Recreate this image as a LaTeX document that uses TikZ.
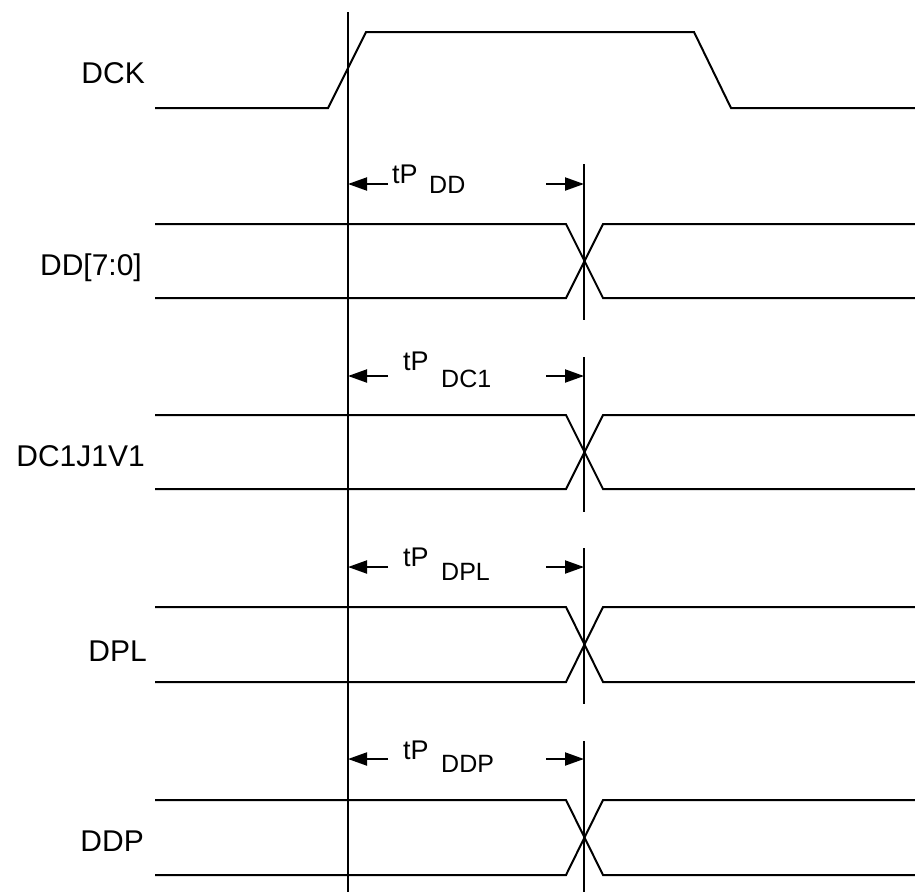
\documentclass[tikz,border=0pt]{standalone}
\usepackage{fontspec}
\setmainfont{Liberation Sans}
\usetikzlibrary{arrows.meta}
\begin{document}
\begin{tikzpicture}[x=1pt,y=-1pt,
  sig/.style={line width=2pt, line join=miter},
  ref/.style={line width=2pt},
  lbl/.style={font=\fontsize{30}{36}\selectfont, inner sep=0pt, anchor=base east},
  tpl/.style={font=\fontsize{27}{32}\selectfont, inner sep=0pt, anchor=base west},
  subl/.style={font=\fontsize{25}{30}\selectfont, inner sep=0pt, anchor=base west},
  dimarrow/.style={line width=2pt, -{Triangle[length=19pt,width=13pt]}}]
\useasboundingbox (0,0) rectangle (915,892);

% clock
\node[lbl] (dck) at (145,83) {DCK};
\draw[sig] (155,108) -- (328,108) -- (366,32) -- (694,32) -- (731,108) -- (915,108);

% reference line
\coordinate (reftop) at (348,12);
\coordinate (refbot) at (348,892);
\draw[ref] (reftop) -- (refbot);

% data rows: top / bottom / label baseline / label / name / label x
\foreach \t/\b/\lb/\txt/\nm/\lx in {224/298/275/{DD[7:0]}/dd/142, 415/489/466/DC1J1V1/dc/145, 607/682/661/DPL/dpl/147, 800/875/851/DDP/ddp/144}{
  \node[lbl] (\nm) at (\lx,\lb) {\txt};
  \draw[sig] (155,\t) -- (566,\t) -- (603,\b) -- (915,\b);
  \draw[sig] (155,\b) -- (566,\b) -- (603,\t) -- (915,\t);
}

% second reference segments
\foreach \s/\e/\nm in {164/320/a, 357/512/b, 548/704/c, 741/892/d}{
  \coordinate (v\nm top) at (584,\s);
  \coordinate (v\nm bot) at (584,\e);
  \draw[ref] (v\nm top) -- (v\nm bot);
}

% dimension arrows and labels
\foreach \y/\tx/\sx/\tb/\sb/\sub/\nm in {184/392/429/183/193/DD/a, 376/403/441/370/387/DC1/b, 567/403/441/566/580/DPL/c, 759/403/441/759/772/DDP/d}{
  \coordinate (l\nm) at (348,\y);
  \coordinate (lt\nm) at (388,\y);
  \coordinate (r\nm) at (584,\y);
  \coordinate (rt\nm) at (546,\y);
  \draw[dimarrow] (lt\nm) -- (l\nm);
  \draw[dimarrow] (rt\nm) -- (r\nm);
  \node[tpl] (tp\nm) at (\tx,\tb) {tP};
  \node[subl] (sub\nm) at (\sx,\sb) {\sub};
}
\end{tikzpicture}
\end{document}
